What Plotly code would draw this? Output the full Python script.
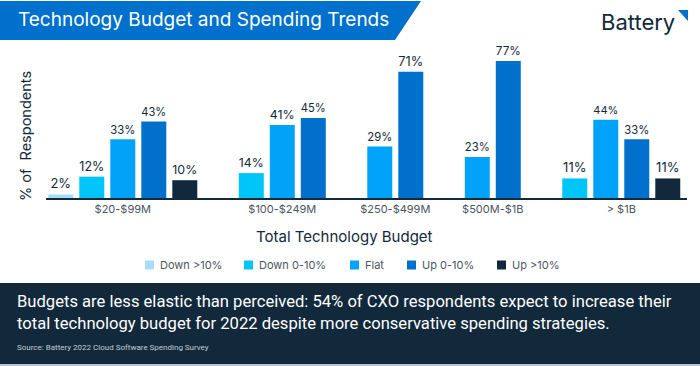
import plotly.graph_objects as go

# ---------------- data ----------------
groups = ["$20-$99M", "$100-$249M", "$250-$499M", "$500M-$1B", "> $1B"]
series_names = ["Down >10%", "Down 0-10%", "Flat", "Up 0-10%", "Up >10%"]
down_gt10 = [2, None, None, None, None]
down_0_10 = [12, 14, None, None, 11]
flat = [33, 41, 29, 23, 44]
up_0_10 = [43, 45, 71, 77, 33]
up_gt10 = [10, None, None, None, 11]
series_values = [down_gt10, down_0_10, flat, up_0_10, up_gt10]

title_text = "Technology Budget and Spending Trends"
x_title = "Total Technology Budget"
y_title = "% of\u00a0 Respondents"
takeaway = ("Budgets are less elastic than perceived: 54% of CXO respondents expect to increase their<br>"
            "total technology budget for 2022 despite more conservative spending strategies.")
source = "Source: Battery 2022 Cloud Software Spending Survey"

# ---------------- style ----------------
colors = ["#a9dcf6", "#00c5f8", "#00a3f7", "#0070cd", "#12293b"]
NAVY = "#12293b"
BLUE = "#0070cd"
FONT = "Inter"

W, H = 700, 366
L, R, T, B = 46, 13, 47, 168
pw, ph = W - L - R, H - T - B


def px(x):
    return (x - L) / pw


def py(y):
    return (H - B - y) / ph


# positions: bars packed within each group (missing bars removed), gap between groups
GROUP_GAP = 2.145
positions = [[None] * len(groups) for _ in series_names]
centers = []
cur = 0.0
for gi in range(len(groups)):
    present = [si for si in range(len(series_names)) if series_values[si][gi] is not None]
    xs = []
    for k, si in enumerate(present):
        positions[si][gi] = cur
        xs.append(cur)
        if k < len(present) - 1:
            cur += 1.0
    centers.append(sum(xs) / len(xs))
    cur += GROUP_GAP
last_x = cur - GROUP_GAP

fig = go.Figure()
for si, name in enumerate(series_names):
    xs = [positions[si][gi] for gi in range(len(groups)) if series_values[si][gi] is not None]
    ys = [series_values[si][gi] for gi in range(len(groups)) if series_values[si][gi] is not None]
    fig.add_trace(go.Bar(
        x=xs, y=ys, name=name, width=0.806,
        marker=dict(color=colors[si], line=dict(width=0)),
        text=[f"{v}%" for v in ys], textposition="outside",
        textfont=dict(family=FONT, size=13, color=NAVY),
        outsidetextfont=dict(family=FONT, size=13, color=NAVY),
        cliponaxis=False, showlegend=False, hoverinfo="skip",
    ))

shapes = [
    # title banner
    dict(type="path", xref="paper", yref="paper",
         path=f"M {px(0)} {py(1)} L {px(421)} {py(1)} L {px(395)} {py(40)} L {px(0)} {py(40)} Z",
         fillcolor=BLUE, line=dict(width=0), layer="below"),
    # logo triangle
    dict(type="path", xref="paper", yref="paper",
         path=f"M {px(678)} {py(10)} L {px(688)} {py(10)} L {px(688)} {py(21)} Z",
         fillcolor=BLUE, line=dict(width=0)),
    # bottom panel
    dict(type="rect", xref="paper", yref="paper", x0=px(0), x1=px(700), y0=py(283), y1=py(366),
         fillcolor=NAVY, line=dict(width=0), layer="below"),
    dict(type="rect", xref="paper", yref="paper", x0=px(0), x1=px(700), y0=py(364), y1=py(366),
         fillcolor="#b9c4ce", line=dict(width=0), layer="below"),
]

annotations = [
    dict(text=title_text, xref="paper", yref="paper", x=px(16), y=py(20), xanchor="left", yanchor="middle",
         showarrow=False, font=dict(family=FONT, size=19, color="white")),
    dict(text="Battery", xref="paper", yref="paper", x=px(677), y=py(22), xanchor="right", yanchor="middle",
         showarrow=False, font=dict(family=FONT, size=22, color=NAVY)),
    dict(text=y_title, xref="paper", yref="paper", x=px(25), y=py(136), xanchor="center", yanchor="middle",
         textangle=-90, showarrow=False, font=dict(family=FONT, size=14.5, color=NAVY)),
    dict(text=x_title, xref="paper", yref="paper", x=px(344), y=py(236), xanchor="center", yanchor="middle",
         showarrow=False, font=dict(family=FONT, size=15, color=NAVY)),
    dict(text=takeaway, xref="paper", yref="paper", x=px(15), y=py(312), xanchor="left", yanchor="middle",
         align="left", showarrow=False, font=dict(family="Roboto", size=16.6, color="white")),
    dict(text=source, xref="paper", yref="paper", x=px(15), y=py(347), xanchor="left", yanchor="middle",
         showarrow=False, font=dict(family="Roboto", size=8, color="#c3ccd4")),
]

# manual legend
legend_x = [145, 244, 350, 407, 497]
for si, name in enumerate(series_names):
    x0 = legend_x[si]
    shapes.append(dict(type="rect", xref="paper", yref="paper", x0=px(x0), x1=px(x0 + 9),
                       y0=py(269.5), y1=py(260.5), fillcolor=colors[si], line=dict(width=0)))
    annotations.append(dict(text=name, xref="paper", yref="paper", x=px(x0 + 13), y=py(265),
                            xanchor="left", yanchor="middle", showarrow=False,
                            font=dict(family=FONT, size=11, color="#4d5560")))

fig.update_layout(
    width=W, height=H, margin=dict(l=L, r=R, t=T, b=B),
    paper_bgcolor="white", plot_bgcolor="white",
    barmode="overlay", showlegend=False,
    xaxis=dict(range=[-0.477, last_x + 0.62], tickvals=centers, ticktext=groups,
               showline=True, linecolor=NAVY, linewidth=2, ticks="", showgrid=False, zeroline=False,
               tickfont=dict(family=FONT, size=11, color="#4d5560"), fixedrange=True, automargin=False),
    yaxis=dict(range=[0, 84.9], visible=False, showgrid=False, zeroline=False, fixedrange=True),
    shapes=shapes, annotations=annotations,
)

fig.write_html("out.html", config={"displayModeBar": False},
               post_script="document.body.style.margin='0';document.body.style.overflow='hidden';")
